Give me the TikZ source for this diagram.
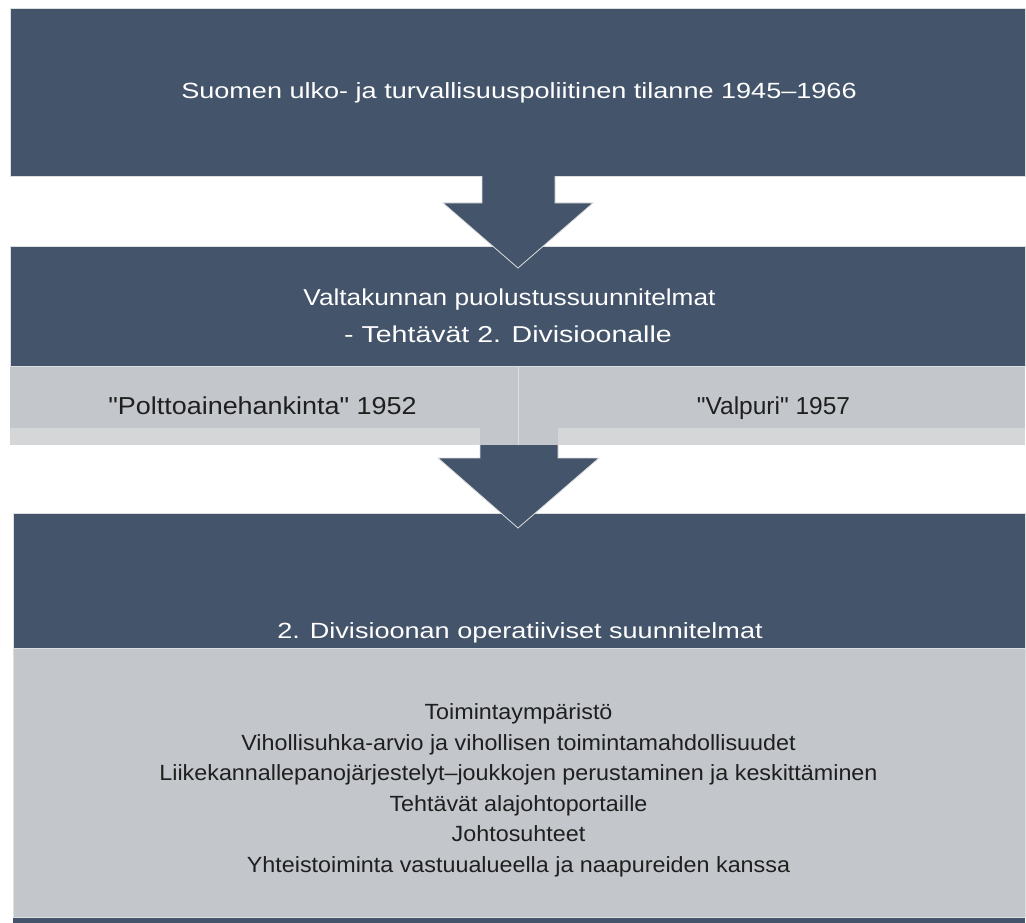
\documentclass[tikz,border=0pt]{standalone}
\usepackage{fontspec}
\setmainfont{Liberation Sans}
\newfontfamily\plainfont{Liberation Sans}
\definecolor{slate}{HTML}{44546A}
\definecolor{band}{HTML}{C3C6CB}
\definecolor{bandlight}{HTML}{D5D6D8}
\definecolor{edge}{HTML}{DDDEE0}
\begin{document}
\begin{tikzpicture}[x=1pt, y=-1pt,
  darkbox/.style={fill=slate, draw=edge, line width=0.8pt},
  greybox/.style={fill=band, draw=none},
  blockarrow/.style={fill=slate, draw=edge, line width=0.8pt},
  headtxt/.style={text=white, font=\plainfont\fontsize{22}{30}\selectfont, anchor=base, inner sep=0pt},
  greytxt/.style={text=black!88, font=\plainfont\fontsize{24.5}{30}\selectfont, anchor=base, inner sep=0pt},
  bodytxt/.style={text=black!88, font=\plainfont\fontsize{22}{30.5}\selectfont, align=center}]
\useasboundingbox (0,0) rectangle (1026,923);

% top box
\draw[darkbox] (10,8) rectangle (1025,176);
\node[headtxt] (sit) at (519,99) {\scalebox{1.23}[1]{Suomen ulko- ja turvallisuuspoliitinen tilanne 1945–1966}};

% defence plans
\fill[bandlight] (10,428) rectangle (1025,445);
\fill[greybox] (10,366) rectangle (1025,428);
\fill[greybox] (480,428) rectangle (558,445);
\draw[edge, line width=0.8pt] (518,366) -- (518,445);
\draw[darkbox] (10,246) rectangle (1025,366);
\node[headtxt, font=\plainfont\fontsize{23}{30}\selectfont] (plan) at (509.5,305) {\scalebox{1.14}[1]{Valtakunnan puolustussuunnitelmat}};
\node[headtxt, font=\plainfont\fontsize{23}{30}\selectfont] (task) at (508,342) {\scalebox{1.24}[1]{- Tehtävät 2. Divisioonalle}};
\node[greytxt] (polt) at (262.5,414) {\scalebox{1.1}[1]{"Polttoainehankinta" 1952}};
\node[greytxt] (valp) at (773.5,414) {\scalebox{1.0}[1]{"Valpuri" 1957}};

% division plans
\fill[slate] (13,917) rectangle (1025,923);
\draw[darkbox, fill=band] (13,648) rectangle (1025,917);
\draw[darkbox] (13,513) rectangle (1025,648);
\node[headtxt] (div) at (520,638) {\scalebox{1.23}[1]{2. Divisioonan operatiiviset suunnitelmat}};
\node[bodytxt] (list) at (518.5,790.5) {\scalebox{1.06}[1]{Toimintaympäristö}\\
  \scalebox{1.06}[1]{Vihollisuhka-arvio ja vihollisen toimintamahdollisuudet}\\
  \scalebox{1.06}[1]{Liikekannallepanojärjestelyt–joukkojen perustaminen ja keskittäminen}\\
  \scalebox{1.06}[1]{Tehtävät alajohtoportaille}\\
  \scalebox{1.06}[1]{Johtosuhteet}\\
  \scalebox{1.06}[1]{Yhteistoiminta vastuualueella ja naapureiden kanssa}};

% arrows
\draw[blockarrow] (482,176) -- (482,203) -- (443,203) -- (518,268) -- (593,203) -- (555,203) -- (555,176);
\draw[blockarrow] (480,445) -- (480,458) -- (438,458) -- (518,528) -- (599,458) -- (558,458) -- (558,445);
\end{tikzpicture}
\end{document}
